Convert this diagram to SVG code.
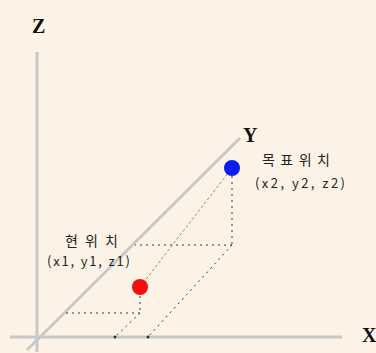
<svg xmlns="http://www.w3.org/2000/svg" width="376" height="353" viewBox="0 0 376 353">
<style>
.axis{stroke:#c8c8c8;stroke-width:3;fill:none}
.dot{stroke:#333;stroke-width:1;stroke-dasharray:2 4;fill:none}
.lbl{font-family:"Liberation Serif",serif;font-weight:bold;font-size:20px;fill:#111}
.t{font-family:"Noto Sans CJK KR","Noto Sans",sans-serif;font-size:13px;fill:#222}
.k{font-size:14px}
</style>
<rect width="376" height="353" fill="#fcf3e6"/>
<g id="axes">
<line class="axis" x1="37" y1="52" x2="37" y2="352"/>
<line class="axis" x1="10" y1="337" x2="342" y2="337"/>
<line class="axis" x1="27" y1="350" x2="240" y2="138"/>
</g>
<g id="connectors">
<line class="dot" x1="232" y1="176" x2="232" y2="245"/>
<line class="dot" x1="232" y1="245" x2="135" y2="245"/>
<line class="dot" x1="232" y1="245" x2="148" y2="337"/>
<line class="dot" x1="140" y1="296" x2="140" y2="313"/>
<line class="dot" x1="140" y1="313" x2="63" y2="313"/>
<line class="dot" x1="140" y1="313" x2="115" y2="337"/>
<line x1="140" y1="287" x2="232" y2="168" stroke="#8a9a6a" stroke-width="1" stroke-dasharray="3 2"/>
<circle cx="115" cy="337" r="1.5" fill="#333"/>
<circle cx="148" cy="337" r="1.5" fill="#333"/>
</g>
<g id="labels">
<text class="lbl" x="32" y="33">Z</text>
<text class="lbl" x="243" y="142">Y</text>
<text class="lbl" x="362" y="342">X</text>
</g>
<g id="target">
<circle cx="232" cy="168" r="8" fill="#0a1ef0"/>
<text class="t k" x="262" y="165" textLength="68" lengthAdjust="spacing">목표위치</text>
<text class="t" x="255" y="188" textLength="90" lengthAdjust="spacing">(x2, y2, z2)</text>
</g>
<g id="current">
<circle cx="140" cy="287" r="8" fill="#f01010"/>
<text class="t k" x="65" y="246" textLength="53" lengthAdjust="spacing">현위치</text>
<text class="t" x="47" y="266" textLength="83" lengthAdjust="spacing">(x1, y1, z1)</text>
</g>
</svg>
